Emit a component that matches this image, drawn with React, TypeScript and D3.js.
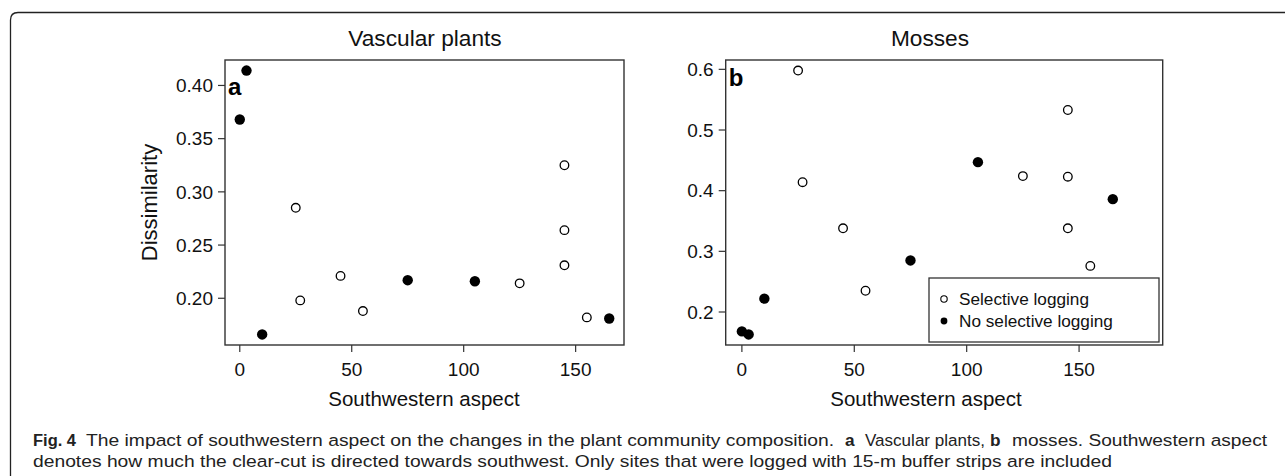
import React from "react";
import * as d3 from "d3";

// site aspect (degrees from southwest), shared by both panels
const aspect = [0, 3, 10, 25, 27, 45, 55, 75, 105, 125, 145, 145, 145, 155, 165];
// true = selective logging (open), false = no selective logging (filled)
const selective = [false, false, false, true, true, true, true, false, false, true, true, true, true, true, false];

const vascular = [0.368, 0.414, 0.166, 0.285, 0.198, 0.221, 0.188, 0.217, 0.216, 0.214, 0.325, 0.264, 0.231, 0.182, 0.181];
const mosses = [0.168, 0.163, 0.222, 0.598, 0.414, 0.338, 0.235, 0.285, 0.447, 0.424, 0.533, 0.423, 0.338, 0.276, 0.386];

const xTicks = [0, 50, 100, 150];
const yTicksA = [0.2, 0.25, 0.3, 0.35, 0.4];
const yTicksB = [0.2, 0.3, 0.4, 0.5, 0.6];
const legendLabels = ["Selective logging", "No selective logging"];

// caption pieces: [text, bold, left, right]
const captionLine1: [string, boolean, number, number][] = [
  ["Fig. 4", true, 33, 76],
  ["The impact of southwestern aspect on the changes in the plant community composition.", false, 86, 834],
  ["a", true, 845, 856],
  ["Vascular plants,", false, 865, 985],
  ["b", true, 990, 1001],
  ["mosses. Southwestern aspect", false, 1012, 1267],
];
const captionLine2 =
  "denotes how much the clear-cut is directed towards southwest. Only sites that were logged with 15-m buffer strips are included";

const FONT = "Liberation Sans, Arial, sans-serif";
const INK = "#111";
const BOX = "#333";

// R style 4% padding around a range
const pad = (lo: number, hi: number): [number, number] => {
  const d = (hi - lo) * 0.04;
  return [lo - d, hi + d];
};

type PanelProps = {
  left: number;
  right: number;
  top: number;
  bottom: number;
  xMax: number;
  values: number[];
  yTicks: number[];
  yFmt: (v: number) => string;
  title: string;
  titleX: number;
  xLabelX: number;
  letter: string;
  letterY: number;
  legend?: boolean;
};

const Panel = (p: PanelProps) => {
  const x = d3.scaleLinear().domain(pad(0, p.xMax)).range([p.left, p.right]);
  const y = d3
    .scaleLinear()
    .domain(pad(d3.min(p.values)!, d3.max(p.values)!))
    .range([p.bottom, p.top]);

  return (
    <g>
      <text x={p.titleX} y={46} textAnchor="middle" fontSize={22.7} fontFamily={FONT} fill={INK}>
        {p.title}
      </text>
      <rect x={p.left} y={p.top} width={p.right - p.left} height={p.bottom - p.top} fill="none" stroke={BOX} strokeWidth={1.4} />

      {/* y axis */}
      {p.yTicks.map((t) => (
        <g key={t}>
          <line x1={p.left - 7} x2={p.left} y1={y(t)} y2={y(t)} stroke={BOX} strokeWidth={1.2} />
          <text x={p.left - 12} y={y(t)} dy="0.35em" textAnchor="end" fontSize={19} fontFamily={FONT} fill={INK}>
            {p.yFmt(t)}
          </text>
        </g>
      ))}

      {/* x axis */}
      {xTicks.map((t) => (
        <g key={t}>
          <line x1={x(t)} x2={x(t)} y1={p.bottom} y2={p.bottom + 7} stroke={BOX} strokeWidth={1.2} />
          <text x={x(t)} y={376} textAnchor="middle" fontSize={19} fontFamily={FONT} fill={INK}>
            {t}
          </text>
        </g>
      ))}
      <text x={p.xLabelX} y={406} textAnchor="middle" fontSize={20.5} fontFamily={FONT} fill={INK}>
        Southwestern aspect
      </text>

      <text x={p.left + 3} y={p.letterY} fontSize={24} fontWeight="bold" fontFamily={FONT} fill="#000">
        {p.letter}
      </text>

      {p.values.map((v, i) =>
        selective[i] ? (
          <circle key={i} cx={x(aspect[i])} cy={y(v)} r={4.3} fill="white" stroke="#000" strokeWidth={1.3} />
        ) : (
          <circle key={i} cx={x(aspect[i])} cy={y(v)} r={5.2} fill="#000" />
        )
      )}

      {p.legend && (
        <g>
          <rect x={929} y={278} width={230} height={64} fill="white" stroke={BOX} strokeWidth={1.3} />
          {legendLabels.map((lab, i) => (
            <g key={lab}>
              {i === 0 ? (
                <circle cx={944} cy={299 + i * 22} r={3.2} fill="white" stroke="#000" strokeWidth={1.1} />
              ) : (
                <circle cx={944} cy={299 + i * 22} r={3.4} fill="#000" />
              )}
              <text x={959} y={299 + i * 22} dy="0.35em" fontSize={17.2} fontFamily={FONT} fill={INK}>
                {lab}
              </text>
            </g>
          ))}
        </g>
      )}
    </g>
  );
};

export default function App() {
  const W = 1285;
  const H = 476;
  return (
    <svg width={W} height={H} style={{ position: "absolute", left: 0, top: 0, background: "white" }}>
      {/* figure frame: top and left edges with a rounded corner */}
      <path d={`M ${W} 12.5 H 18 Q 10.5 12.5 10.5 20 V ${H}`} fill="none" stroke="#222" strokeWidth={1.3} />

      <Panel
        left={225}
        right={624}
        top={60}
        bottom={345}
        xMax={165}
        values={vascular}
        yTicks={yTicksA}
        yFmt={d3.format(".2f")}
        title="Vascular plants"
        titleX={425}
        xLabelX={424}
        letter="a"
        letterY={95}
      />
      <text
        transform="translate(157,202.5) rotate(-90)"
        textAnchor="middle"
        fontSize={22}
        fontFamily={FONT}
        fill={INK}
      >
        Dissimilarity
      </text>

      <Panel
        left={725.7}
        right={1162.7}
        top={60}
        bottom={345}
        xMax={180}
        values={mosses}
        yTicks={yTicksB}
        yFmt={d3.format(".1f")}
        title="Mosses"
        titleX={930}
        xLabelX={926}
        letter="b"
        letterY={86}
        legend
      />

      {captionLine1.map(([txt, bold, x0, x1]) =>
        txt.length > 1 ? (
          <text
            key={txt}
            x={x0}
            y={445.5}
            fontSize={17.2}
            fontWeight={bold ? "bold" : "normal"}
            fontFamily={FONT}
            fill="#222"
            textLength={x1 - x0}
            lengthAdjust="spacingAndGlyphs"
          >
            {txt}
          </text>
        ) : (
          <text key={txt} x={x0} y={445.5} fontSize={17.2} fontWeight="bold" fontFamily={FONT} fill="#222">
            {txt}
          </text>
        )
      )}
      <text x={33} y={466.5} fontSize={17.2} fontFamily={FONT} fill="#222" textLength={1079} lengthAdjust="spacingAndGlyphs">
        {captionLine2}
      </text>
    </svg>
  );
}
